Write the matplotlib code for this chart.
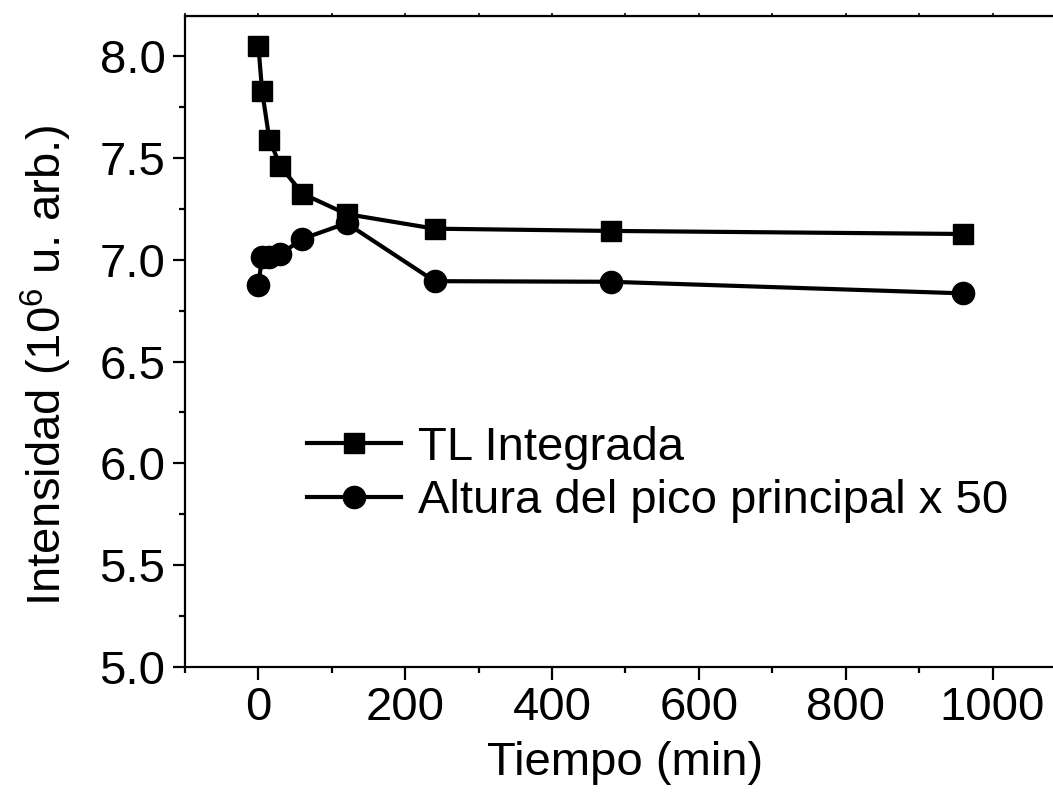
import numpy as np
import matplotlib
matplotlib.use('Agg')
import matplotlib.pyplot as plt
from matplotlib.ticker import MultipleLocator

# ------------ DATA ------------
tiempo = [0, 5, 15, 30, 60, 120, 240, 480, 960]
tl_integrada = [8.05, 7.83, 7.59, 7.46, 7.325, 7.225, 7.153, 7.142, 7.127]
altura_pico = [6.877, 7.016, 7.016, 7.028, 7.103, 7.18, 6.895, 6.892, 6.835]

labels = ['TL Integrada', 'Altura del pico principal x 50']

# ------------ STYLE ------------
plt.rcParams['font.family'] = ['Liberation Sans', 'DejaVu Sans']
plt.rcParams['mathtext.fontset'] = 'custom'
plt.rcParams['mathtext.rm'] = 'Liberation Sans'
plt.rcParams['mathtext.default'] = 'regular'
fs = 34

fig = plt.figure(figsize=(10.53, 8.02), dpi=100)
ax = fig.add_axes([0.1757, 0.1688, 0.8366, 0.8116])

ax.plot(tiempo, tl_integrada, '-s', color='black', lw=3, ms=14, label=labels[0])
ax.plot(tiempo, altura_pico, '-o', color='black', lw=3, ms=16, label=labels[1])

ax.set_xlim(-100, 1100)
ax.set_ylim(5.0, 8.2)
ax.xaxis.set_minor_locator(MultipleLocator(100))
ax.yaxis.set_major_locator(MultipleLocator(0.5))
ax.yaxis.set_minor_locator(MultipleLocator(0.25))
ax.set_xticks([0, 200, 400, 600, 800, 1000])
ax.yaxis.set_major_formatter(matplotlib.ticker.FormatStrFormatter('%.1f'))

for sp in ax.spines.values():
    sp.set_linewidth(1.6)
ax.tick_params(which='major', direction='out', length=9, width=1.6,
               labelsize=fs, pad=5)
ax.tick_params(which='minor', direction='out', length=4.5, width=1.6)

# tiny ticks on the top spine
top = ax.secondary_xaxis('top')
top.xaxis.set_major_locator(MultipleLocator(100))
top.tick_params(direction='out', length=2, width=1.2, labeltop=False)

ax.set_xlabel('Tiempo (min)', fontsize=fs, labelpad=8)
ax.set_ylabel('Intensidad (10$^{6}$ u. arb.)', fontsize=fs)
ax.yaxis.set_label_coords(-0.126, 0.463)

ax.legend(loc='center left', bbox_to_anchor=(0.1385, 0.295), frameon=False,
          fontsize=fs, borderpad=0, borderaxespad=0, handlelength=2.0,
          handletextpad=0.35, labelspacing=0.2)

fig.savefig('out.png', dpi=100)
